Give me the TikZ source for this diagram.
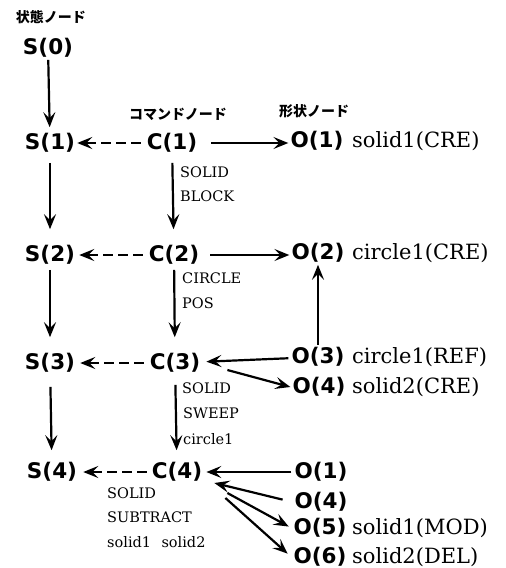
\documentclass[tikz,border=0pt]{standalone}
\usepackage{fontspec}
\setmainfont{DejaVu Serif}
\newfontfamily\nodefont{DejaVu Sans}
\newfontfamily\jpfont{Noto Sans CJK JP}
\usetikzlibrary{arrows.meta,calc}

\tikzset{
  nd/.style={font=\nodefont\bfseries\fontsize{21.5}{22}\selectfont, inner sep=2pt},
  desc/.style={font=\fontsize{21}{22}\selectfont, inner sep=0pt, anchor=base west},
  cmd/.style={font=\fontsize{14.5}{15}\selectfont, inner sep=0pt, anchor=west},
  hdr/.style={font=\jpfont\bfseries\fontsize{14}{15}\selectfont, inner sep=0pt},
  arr/.style={line width=2.2pt, -{Stealth[length=15pt,width=12pt,inset=6pt]}},
  darr/.style={arr, dash pattern=on 10pt off 5pt},
}

\begin{document}
\begin{tikzpicture}[x=1pt,y=-1pt]
\useasboundingbox (0,0) rectangle (506,568);

% column headings
\node[hdr] (hs) at (51,17)  {状態ノード};
\node[hdr] (hc) at (178,114) {コマンドノード};
\node[hdr] (ho) at (314,111) {形状ノード};

% state nodes
\node[nd] (s0) at (48,48)  {S(0)};
\node[nd] (s1) at (50,143) {S(1)};
\node[nd] (s2) at (50,255) {S(2)};
\node[nd] (s3) at (50,363) {S(3)};
\node[nd] (s4) at (52,472) {S(4)};

% command nodes
\node[nd] (c1) at (172,143) {C(1)};
\node[nd] (c2) at (174,255) {C(2)};
\node[nd] (c3) at (175,363) {C(3)};
\node[nd] (c4) at (177,472) {C(4)};

% shape nodes
\node[nd] (o1)  at (317,141) {O(1)};
\node[nd] (o2)  at (318,253) {O(2)};
\node[nd] (o3)  at (318,357) {O(3)};
\node[nd] (o4)  at (319,387) {O(4)};
\node[nd] (o1b) at (321,472) {O(1)};
\node[nd] (o4b) at (321,502) {O(4)};
\node[nd] (o5)  at (320,528) {O(5)};
\node[nd] (o6)  at (320,557) {O(6)};

% shape descriptions
\coordinate (dx) at (352,0);
\node[desc] (d1) at (o1.base -| dx) {solid1(CRE)};
\node[desc] (d2) at (o2.base -| dx) {circle1(CRE)};
\node[desc] (d3) at (o3.base -| dx) {circle1(REF)};
\node[desc] (d4) at (o4.base -| dx) {solid2(CRE)};
\node[desc] (d5) at (o5.base -| dx) {solid1(MOD)};
\node[desc] (d6) at (o6.base -| dx) {solid2(DEL)};

% command parameters
\node[cmd] (p1a) at (180,172) {SOLID};
\node[cmd] (p1b) at (180,196) {BLOCK};
\node[cmd] (p2a) at (182,278) {CIRCLE};
\node[cmd] (p2b) at (182,303) {POS};
\node[cmd] (p3a) at (182,388) {SOLID};
\node[cmd] (p3b) at (183,413) {SWEEP};
\node[cmd] (p3c) at (183,439) {circle1};
\node[cmd] (p4a) at (107,493) {SOLID};
\node[cmd] (p4b) at (107,517) {SUBTRACT};
\node[cmd] (p4c) at (107,542) {solid1\hspace{0.4em} solid2};

% state sequence
\draw[arr, shorten >=4pt] (s0) -- (s1);
\draw[arr, shorten <=8pt, shorten >=14pt] (s1) -- (s2);
\draw[arr, shorten <=3pt, shorten >=14pt] (s2) -- (s3);
\draw[arr, shorten <=12pt, shorten >=10pt] (s3) -- (s4);

% command sequence
\draw[arr, shorten <=8pt, shorten >=14pt] (c1) -- (c2);
\draw[arr, shorten <=3pt, shorten >=14pt] (c2) -- (c3);
\draw[arr, shorten <=10pt, shorten >=10pt] (c3) -- (c4);

% command -> state
\draw[darr, shorten <=4pt] (c1) -- (s1);
\draw[darr, shorten <=4pt, shorten >=2pt] (c2) -- (s2);
\draw[darr, shorten <=4pt, shorten >=3pt] (c3) -- (s3);
\draw[darr, shorten <=3pt, shorten >=4pt] (c4) -- (s4);

% command <-> shape
\draw[arr, shorten <=12pt] (c1) -- (c1 -| o1.west);
\draw[arr, shorten <=9pt] (c2) -- (c2 -| o2.west);
\draw[arr] (o3.north) -- (o2.south);
\draw[arr, shorten <=1pt, shorten >=4pt] (o3) -- (c3);
\draw[arr] ($(c3.east)+(25,7)$) -- (o4.west);
\draw[arr, shorten <=1pt, shorten >=2pt] (o1b) -- (c4);
\draw[arr, shorten <=10pt] (o4b.west) -- ($(c4.east)+(10,11)$);
\draw[arr, shorten >=3pt] ($(c4.east)+(23,21)$) -- (o5.west);
\draw[arr, shorten >=5pt] ($(c4.east)+(21,26)$) -- (o6.west);
\end{tikzpicture}
\end{document}
